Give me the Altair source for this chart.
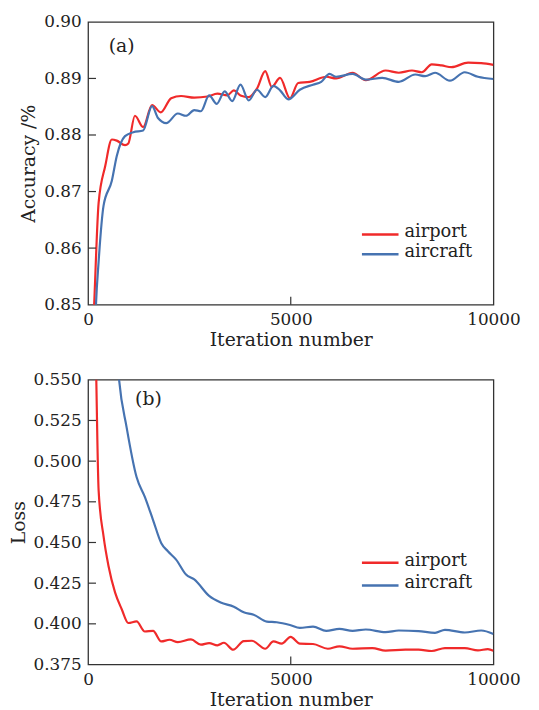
import altair as alt
import pandas as pd

# ---------------- data ----------------
acc_airport_iter = [120, 150, 260, 423, 586, 708, 911, 993, 1155, 1359, 1578, 1790, 2050, 2295, 2620, 2945,
                    3190, 3434, 3596, 3760, 3963, 4166, 4370, 4532, 4736, 4980, 5183, 5468, 5875, 6119,
                    6526, 6851, 7339, 7665, 7990, 8234, 8478, 8723, 8967, 9374, 9699, 10000]
acc_airport = [0.845, 0.850, 0.868, 0.8745, 0.8792, 0.8790, 0.8782, 0.8785, 0.8834, 0.8814, 0.8853, 0.8840,
               0.8865, 0.8869, 0.8866, 0.8868, 0.8873, 0.8870, 0.8879, 0.8870, 0.8867, 0.8882, 0.8913,
               0.8885, 0.8901, 0.8865, 0.8892, 0.8894, 0.8903, 0.8900, 0.8910, 0.8897, 0.8914, 0.8910,
               0.8914, 0.8911, 0.8925, 0.8923, 0.8920, 0.8928, 0.8927, 0.8924]

acc_aircraft_iter = [170, 195, 260, 382, 586, 708, 911, 1115, 1359, 1578, 1725, 1928, 2213, 2416, 2620, 2783,
                     2986, 3173, 3369, 3556, 3760, 3963, 4166, 4370, 4573, 4736, 4939, 5224, 5549, 5752,
                     5956, 6119, 6526, 6851, 7258, 7665, 8072, 8316, 8560, 8926, 9292, 9618, 10000]
acc_aircraft = [0.845, 0.850, 0.8576, 0.8675, 0.8719, 0.8763, 0.8798, 0.8805, 0.8808, 0.8851, 0.8830,
                0.8821, 0.8838, 0.8834, 0.8844, 0.8842, 0.8870, 0.8855, 0.8877, 0.8860, 0.8889, 0.8861,
                0.8880, 0.8867, 0.8887, 0.8879, 0.8863, 0.8880, 0.8889, 0.8894, 0.8908, 0.8903, 0.8908,
                0.8898, 0.8901, 0.8894, 0.8907, 0.8904, 0.8910, 0.8896, 0.8911, 0.8903, 0.8899]

loss_airport_iter = [170, 203, 260, 382, 505, 667, 830, 993, 1196, 1400, 1603, 1806, 2010, 2213, 2539, 2783,
                     2986, 3190, 3352, 3580, 3840, 4044, 4370, 4573, 4776, 4996, 5224, 5549, 5915, 6200,
                     6526, 7014, 7339, 7828, 8153, 8478, 8804, 9292, 9618, 9862, 10000]
loss_airport = [0.600, 0.550, 0.482, 0.4537, 0.4354, 0.4192, 0.4090, 0.4005, 0.4015, 0.3953, 0.3957, 0.3892,
                0.3902, 0.3888, 0.3904, 0.3872, 0.3882, 0.3868, 0.3884, 0.3841, 0.3894, 0.3896, 0.3847,
                0.3892, 0.3878, 0.3920, 0.3878, 0.3876, 0.3847, 0.3862, 0.3847, 0.3851, 0.3835, 0.3841,
                0.3841, 0.3833, 0.3851, 0.3851, 0.3837, 0.3845, 0.3835]

loss_aircraft_iter = [700, 765, 952, 1196, 1400, 1603, 1806, 1969, 2172, 2416, 2620, 2986, 3271, 3596, 3840,
                      4085, 4410, 4654, 4980, 5224, 5549, 5875, 6200, 6526, 6851, 7339, 7665, 8153, 8560,
                      8804, 9292, 9699, 10000]
loss_aircraft = [0.570, 0.550, 0.5206, 0.4902, 0.4780, 0.4638, 0.4496, 0.4446, 0.4395, 0.4303, 0.4273,
                 0.4172, 0.4131, 0.4105, 0.4071, 0.4056, 0.4014, 0.4010, 0.3993, 0.3975, 0.3983, 0.3957,
                 0.3969, 0.3957, 0.3965, 0.3949, 0.3959, 0.3955, 0.3945, 0.3963, 0.3947, 0.3959, 0.3937]

series_names = ["airport", "aircraft"]
series_colors = ["#f02a2a", "#4673b1"]

x_ticks = [0, 5000, 10000]
acc_ticks = [0.85, 0.86, 0.87, 0.88, 0.89, 0.90]
loss_ticks = [0.375, 0.400, 0.425, 0.450, 0.475, 0.500, 0.525, 0.550]

FONT = "DejaVu Serif"
W = 410


def panel(it_a, v_a, it_b, v_b, yticks, yfmt, ytitle, tag, H, leg_y, leg_gap, ytp):
    df = pd.concat([
        pd.DataFrame({"iter": it_a, "val": v_a, "series": series_names[0]}),
        pd.DataFrame({"iter": it_b, "val": v_b, "series": series_names[1]}),
    ])
    xs = alt.Scale(domain=[x_ticks[0], x_ticks[-1]], nice=False)
    ys = alt.Scale(domain=[yticks[0], yticks[-1]], nice=False, zero=False)
    xax = alt.Axis(values=x_ticks, labelFlush=False, format="d", titlePadding=3)
    yax = alt.Axis(values=yticks, format=yfmt, titlePadding=ytp)
    X = lambda: alt.X("iter:Q", scale=xs, title="Iteration number", axis=xax)
    Y = lambda: alt.Y("val:Q", scale=ys, title=ytitle, axis=yax)
    lines = alt.Chart(df).mark_line(clip=True, strokeWidth=2.2, interpolate="monotone").encode(
        x=X(), y=Y(),
        color=alt.Color("series:N", scale=alt.Scale(domain=series_names, range=series_colors), legend=None),
        detail="series:N",
    )
    ytk = alt.Chart(pd.DataFrame({"val": yticks[1:-1]})).mark_rule(color="#333", strokeWidth=1.2).encode(
        y=Y(), x=alt.value(0), x2=alt.value(8))
    xtk = alt.Chart(pd.DataFrame({"iter": x_ticks[1:-1]})).mark_rule(color="#333", strokeWidth=1.2).encode(
        x=X(), y=alt.value(H), y2=alt.value(H - 8))
    layers = [lines, ytk, xtk]
    leg_df = pd.DataFrame({"series": series_names})
    for i, col in enumerate(series_colors):
        yy = leg_y + i * leg_gap
        layers.append(alt.Chart(leg_df.iloc[[i]]).mark_rule(color=col, strokeWidth=2.5).encode(
            x=alt.value(277), x2=alt.value(314), y=alt.value(yy)))
        layers.append(alt.Chart(leg_df.iloc[[i]]).mark_text(
            align="left", baseline="middle", font=FONT, fontSize=18, color="#222").encode(
            x=alt.value(320), y=alt.value(yy - 2), text="series:N"))
    layers.append(alt.Chart(pd.DataFrame({"t": [tag[0]]})).mark_text(
        align="center", baseline="middle", font=FONT, fontSize=19, color="#222").encode(
        x=alt.value(tag[1]), y=alt.value(tag[2]), text="t:N"))
    return alt.layer(*layers).properties(width=W, height=H)


top = panel(acc_airport_iter, acc_airport, acc_aircraft_iter, acc_aircraft, acc_ticks, ".2f",
            "Accuracy /%", ("(a)", 34, 24), 286, 215, 20, 5)
bottom = panel(loss_airport_iter, loss_airport, loss_aircraft_iter, loss_aircraft, loss_ticks, ".3f",
               "Loss", ("(b)", 61, 20), 288, 185, 23, 5)

chart = alt.vconcat(top, bottom, spacing=20).properties(
    padding={"left": 0, "top": 0, "right": 10, "bottom": 0}
).configure(
    font=FONT,
).configure_view(
    stroke="#333", strokeWidth=1.3
).configure_axis(
    domain=False, ticks=False, grid=False,
    labelFont=FONT, labelFontSize=17, labelColor="#222", labelPadding=7,
    titleFont=FONT, titleFontSize=19, titleFontWeight="normal", titleColor="#222",
)

chart.save("out.html", embed_options={"renderer": "svg", "actions": False})
